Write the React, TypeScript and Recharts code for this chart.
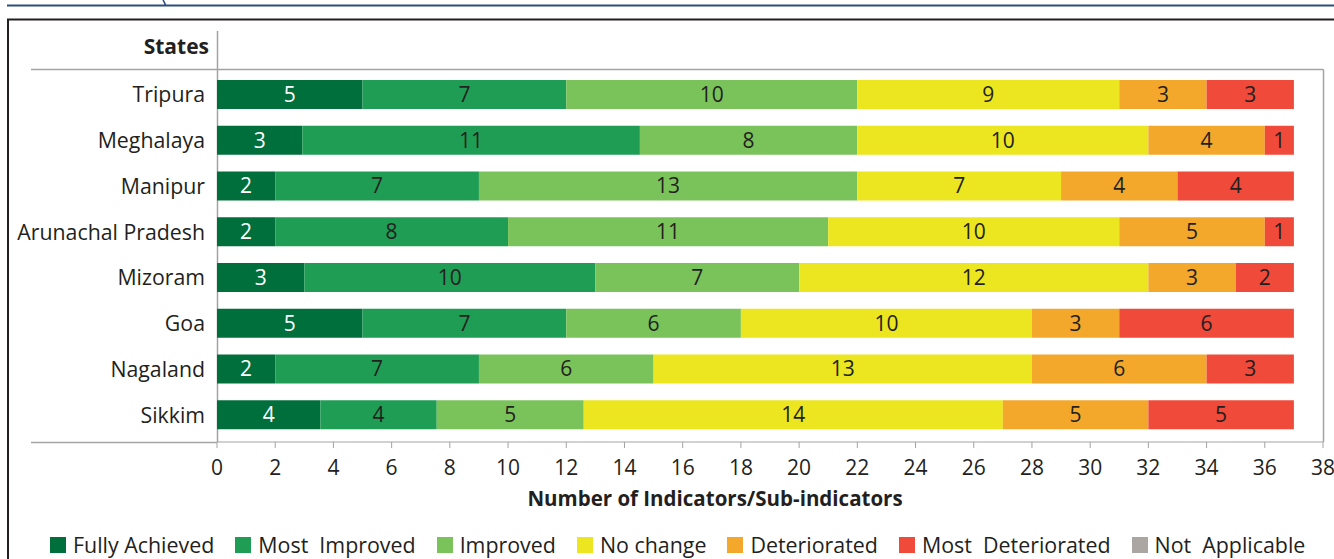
import { BarChart, Bar, XAxis, YAxis, LabelList } from "recharts";

const states = ["Tripura", "Meghalaya", "Manipur", "Arunachal Pradesh", "Mizoram", "Goa", "Nagaland", "Sikkim"];

// printed counts on each segment
const fullyAchieved = [5, 3, 2, 2, 3, 5, 2, 4];
const mostImproved = [7, 11, 7, 8, 10, 7, 7, 4];
const improved = [10, 8, 13, 11, 7, 6, 6, 5];
const noChange = [9, 10, 7, 10, 12, 10, 13, 14];
const deteriorated = [3, 4, 4, 5, 3, 3, 6, 5];
const mostDeteriorated = [3, 1, 4, 1, 2, 6, 3, 5];
const notApplicable = [0, 0, 0, 0, 0, 0, 0, 0];

// segment lengths as drawn (the source art is off for Meghalaya and Sikkim)
const fullyAchievedLen = [5, 2.93, 2, 2, 3, 5, 2, 3.55];
const mostImprovedLen = [7, 11.6, 7, 8, 10, 7, 7, 4];
const improvedLen = [10, 7.47, 13, 11, 7, 6, 6, 5.05];
const noChangeLen = [9, 10, 7, 10, 12, 10, 13, 14.4];
const deterioratedLen = [3, 4, 4, 5, 3, 3, 6, 5];
const mostDeterioratedLen = [3, 1, 4, 1, 2, 6, 3, 5];

const xTicks = [0, 2, 4, 6, 8, 10, 12, 14, 16, 18, 20, 22, 24, 26, 28, 30, 32, 34, 36, 38];
const rowEdges = [1, 2, 3, 4, 5, 6, 7];

const series = [
  { key: "fa", name: "Fully Achieved", color: "#006f3b", text: "#ffffff", len: fullyAchievedLen, count: fullyAchieved },
  { key: "mi", name: "Most  Improved", color: "#1f9d55", text: "#231f20", len: mostImprovedLen, count: mostImproved },
  { key: "im", name: "Improved", color: "#7ac35a", text: "#231f20", len: improvedLen, count: improved },
  { key: "nc", name: "No change", color: "#ebe61f", text: "#231f20", len: noChangeLen, count: noChange },
  { key: "de", name: "Deteriorated", color: "#f3a82b", text: "#231f20", len: deterioratedLen, count: deteriorated },
  { key: "md", name: "Most  Deteriorated", color: "#ef4a3a", text: "#231f20", len: mostDeterioratedLen, count: mostDeteriorated },
  { key: "na", name: "Not  Applicable", color: "#aca6a3", text: "#231f20", len: notApplicable, count: notApplicable },
];

const rows = states.map((state, i) => {
  const row: Record<string, string | number> = { state };
  series.forEach((s) => {
    row[s.key] = s.len[i];
    row[s.key + "Label"] = s.count[i];
  });
  return row;
});

const ink = "#231f20";
const rule = "#a3a3a3";
const font = '"Open Sans", sans-serif';

export default function App() {
  return (
    <div style={{ position: "absolute", left: 0, top: 0, width: 1334, height: 559, background: "#fff", fontFamily: font, overflow: "hidden" }}>
      <svg width={1334} height={559} style={{ position: "absolute", left: 0, top: 0 }}>
        <line x1={7} y1={5.5} x2={1334} y2={5.5} stroke="#2b4c7e" strokeWidth={2} />
        <path d="M163,0 Q165,3 165.5,5.5" stroke="#2b4c7e" strokeWidth={1.5} fill="none" />
        <path d="M8,559 V19.5 H1334" stroke={ink} strokeWidth={2} fill="none" />
        <line x1={31} y1={69.5} x2={1323.5} y2={69.5} stroke={rule} strokeWidth={1.5} />
        <line x1={1323.5} y1={69.5} x2={1323.5} y2={442} stroke={rule} strokeWidth={1.5} />
        <line x1={217.5} y1={31} x2={217.5} y2={442} stroke={rule} strokeWidth={1.5} />
        <line x1={31} y1={442.5} x2={217} y2={442.5} stroke={rule} strokeWidth={1.5} />
        <text x={209} y={54} textAnchor="end" fontSize={21} fontWeight="bold" fill={ink} fontFamily={font}>
          States
        </text>
      </svg>
      <div style={{ position: "absolute", left: 0, top: 0 }}>
        <BarChart width={1334} height={559} layout="vertical" data={rows} margin={{ top: 69, right: 11, bottom: 87, left: 8 }} barSize={29}>
          <XAxis
            type="number"
            domain={[0, 38]}
            ticks={xTicks}
            interval={0}
            height={30}
            stroke={rule}
            tickSize={6}
            tickMargin={12}
            tick={{ fontSize: 21, fill: ink, fontFamily: font }}
            label={{
              content: () => (
                <text x={715} y={506} textAnchor="middle" fontSize={20.5} fontWeight="bold" fill={ink} fontFamily={font}>
                  Number of Indicators/Sub-indicators
                </text>
              ),
            }}
          />
          <YAxis
            yAxisId="edges"
            type="number"
            domain={[0, 8]}
            ticks={rowEdges}
            width={0}
            axisLine={false}
            padding={{ top: 3, bottom: 4 }}
            tickSize={7}
            stroke={rule}
            tickFormatter={() => ""}
          />
          <YAxis
            yAxisId="cat"
            type="category"
            dataKey="state"
            width={209}
            axisLine={false}
            tickLine={false}
            tickSize={0}
            tickMargin={12}
            padding={{ top: 3, bottom: 4 }}
            tick={{ fontSize: 21.3, fill: ink, fontFamily: font }}
          />
          {series.map((s) => (
            <Bar key={s.key} yAxisId="cat" dataKey={s.key} name={s.name} stackId="a" fill={s.color} isAnimationActive={false}>
              <LabelList dataKey={s.key + "Label"} position="center" fill={s.text} fontSize={21} fontFamily={font} />
            </Bar>
          ))}
        </BarChart>
      </div>
      <div style={{ position: "absolute", left: 50, top: 530, display: "flex", alignItems: "center", whiteSpace: "pre", fontSize: 21.4, color: ink }}>
        {series.map((s) => (
          <div key={s.key} style={{ display: "flex", alignItems: "center", marginRight: 21 }}>
            <span style={{ width: 16, height: 16, background: s.color, marginRight: 7, display: "inline-block" }} />
            <span>{s.name}</span>
          </div>
        ))}
      </div>
    </div>
  );
}
